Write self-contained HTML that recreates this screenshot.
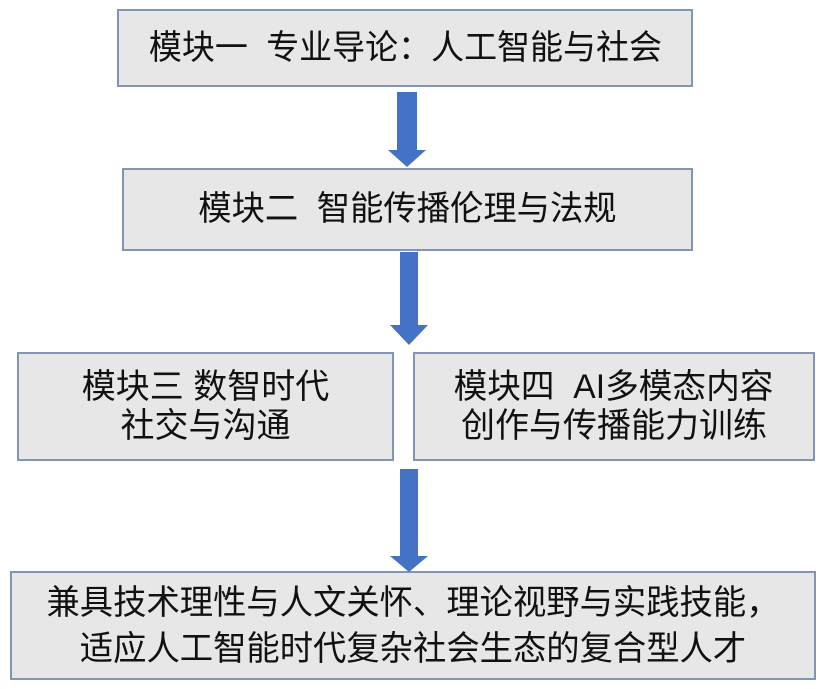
<!DOCTYPE html>
<html><head><meta charset="utf-8"><style>
body{margin:0;width:825px;height:689px;background:#fff;position:relative;overflow:hidden;font-family:"Liberation Sans","Noto Sans CJK SC",sans-serif;color:#111}
.b{position:absolute;background:#e7e7e7;border:2px solid #8395b5;box-sizing:border-box;display:flex;flex-direction:column;align-items:center;justify-content:center}
.t{display:inline-block;white-space:pre;font-size:34px;line-height:39px}
</style></head><body>
<div class="b" style="left:117px;top:9px;width:576px;height:78px"><span class="t" style="transform:scaleX(0.97)">模块一  专业导论：人工智能与社会</span></div>
<div class="b" style="left:122px;top:168px;width:571px;height:83px"><span class="t" style="transform:scaleX(0.98)">模块二  智能传播伦理与法规</span></div>
<div class="b" style="left:17px;top:352px;width:377px;height:109px"><span class="t">模块三 数智时代</span><span class="t">社交与沟通</span></div>
<div class="b" style="left:413px;top:352px;width:402px;height:109px"><span class="t" style="transform:scaleX(0.99)">模块四  AI多模态内容</span><span class="t">创作与传播能力训练</span></div>
<div class="b" style="left:10px;top:571px;width:806px;height:109px"><span class="t" style="line-height:46px;transform:scaleX(0.98)">兼具技术理性与人文关怀、理论视野与实践技能，</span><span class="t" style="line-height:46px;transform:scaleX(0.98)">适应人工智能时代复杂社会生态的复合型人才</span></div>
<svg width="825" height="689" style="position:absolute;left:0;top:0">
<g fill="#4472c4">
<polygon points="397,92 417,92 417,150 426,150 407,167 388,150 397,150"/>
<polygon points="400,252 418,252 418,325 428,325 409,345 390,325 400,325"/>
<polygon points="400,469 418,469 418,556 428,556 409,572 390,556 400,556"/>
</g></svg>
</body></html>
